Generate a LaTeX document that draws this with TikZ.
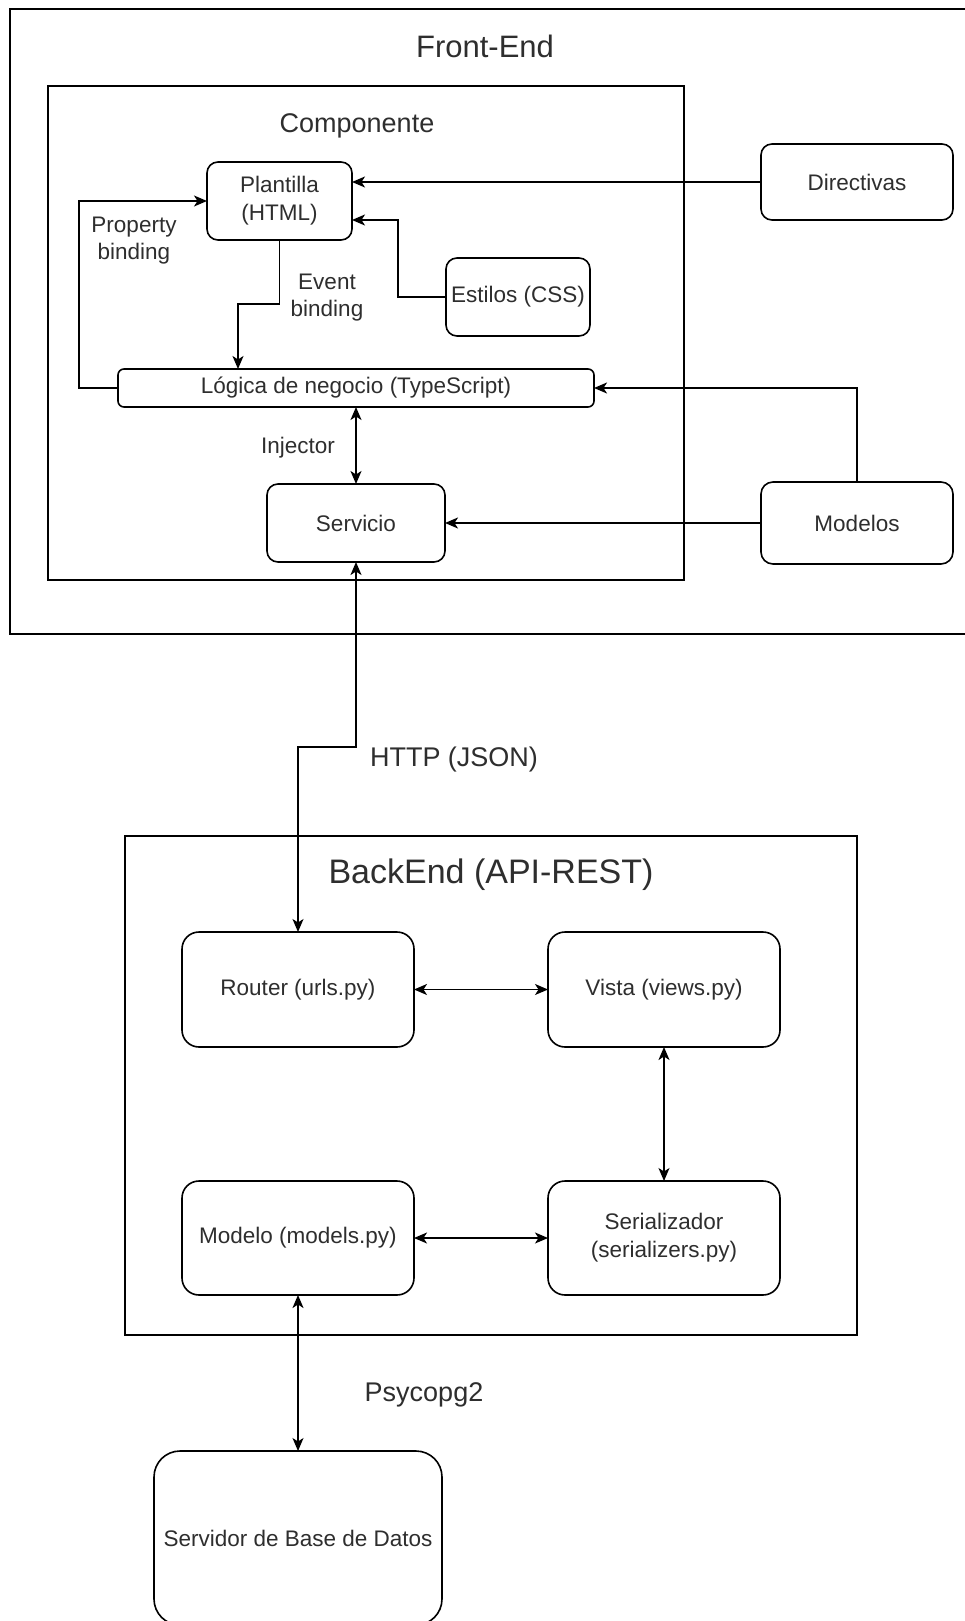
\documentclass[tikz,border=0pt]{standalone}
\usepackage{fontspec}
\setmainfont{Liberation Sans}
\usetikzlibrary{arrows.meta}
\definecolor{txt}{HTML}{2E2E2E}
\begin{document}
\begin{tikzpicture}[x=1pt,y=-1pt,
  every node/.style={text=txt, inner sep=0pt, outer sep=0pt},
  panel/.style={draw=black, line width=1.6pt},
  box/.style={draw=black, line width=1.6pt, fill=white, align=center,
    font=\fontsize{22.5}{28}\selectfont},
  lbl/.style={align=center, font=\fontsize{22.5}{27}\selectfont},
  biglbl/.style={font=\fontsize{27}{32}\selectfont},
  ttl/.style={font=\fontsize{34}{40}\selectfont},
  arr/.style={draw=black, line width=1.6pt, -{Stealth[length=13pt,width=11pt,inset=3.5pt]}},
  darr/.style={draw=black, line width=1.6pt,
    {Stealth[length=13pt,width=11pt,inset=3.5pt]}-{Stealth[length=13pt,width=11pt,inset=3.5pt]}}]

\fill[white] (0,0) rectangle (964,1621);
\useasboundingbox (0,0) rectangle (964,1621);

% ---------- Front-End ----------
\node[panel, minimum width=957pt, minimum height=625pt] (frontend) at (488.5,321.5) {};
\node[font=\fontsize{31}{37}\selectfont] (fetitle) at (485,46) {Front-End};

\node[panel, minimum width=636pt, minimum height=494pt] (componente) at (366,333) {};
\node[font=\fontsize{27}{32}\selectfont] (comptitle) at (357,126) {Componente};

\node[box, rounded corners=11pt, minimum width=145pt, minimum height=78pt] (plantilla) at (279.5,201) {Plantilla\\(HTML)};
\node[box, rounded corners=11pt, minimum width=192pt, minimum height=76pt] (directivas) at (857,182) {Directivas};
\node[box, rounded corners=11pt, minimum width=144pt, minimum height=78pt] (estilos) at (518,297) {Estilos (CSS)};
\node[box, rounded corners=6pt, minimum width=476pt, minimum height=38pt] (logica) at (356,388) {Lógica de negocio (TypeScript)};
\node[box, rounded corners=11pt, minimum width=178pt, minimum height=78pt] (servicio) at (356,523) {Servicio};
\node[box, rounded corners=12pt, minimum width=192pt, minimum height=82pt] (modelos) at (857,523) {Modelos};

% ---------- BackEnd ----------
\node[panel, minimum width=732pt, minimum height=499pt] (backend) at (491,1085.5) {};
\node[ttl] (betitle) at (491,875) {BackEnd (API-REST)};

\node[box, rounded corners=17pt, minimum width=232pt, minimum height=115pt] (router) at (298,989.5) {Router (urls.py)};
\node[box, rounded corners=17pt, minimum width=232pt, minimum height=115pt] (vista) at (664,989.5) {Vista (views.py)};
\node[box, rounded corners=17pt, minimum width=232pt, minimum height=114pt] (modelo) at (298,1238) {Modelo (models.py)};
\node[box, rounded corners=17pt, minimum width=232pt, minimum height=114pt] (serial) at (664,1238) {Serializador\\(serializers.py)};

\node[box, rounded corners=26pt, minimum width=288pt, minimum height=174pt] (servidor) at (298,1538) {Servidor de Base de Datos};

% ---------- connector bends ----------
\coordinate (estA) at (398,297);
\coordinate (estB) at (398,220);
\coordinate (evA) at (279.5,304);
\coordinate (evB) at (238,304);
\coordinate (pbA) at (79,388);
\coordinate (pbB) at (79,201);
\coordinate (htA) at (356,747);
\coordinate (htB) at (298,747);

% ---------- connectors ----------
\draw[arr] (directivas.west) -- (directivas.west -| plantilla.east);
\draw[arr] (estilos.west) -- (estA) -- (estB) -- (estB -| plantilla.east);
\draw[arr] (plantilla.south) -- (evA) -- (evB) -- (evB |- logica.north);
\draw[arr] (logica.west) -- (pbA) -- (pbB) -- (plantilla.west);
\draw[arr] (modelos.north) -- (modelos.north |- logica.east) -- (logica.east);
\draw[arr] (modelos.west) -- (servicio.east);
\draw[darr] (logica.south) -- (servicio.north);
\draw[darr] (servicio.south) -- (htA) -- (htB) -- (router.north);
\draw[darr] (router.east) -- (vista.west);
\draw[darr] (vista.south) -- (serial.north);
\draw[darr] (modelo.east) -- (serial.west);
\draw[darr] (modelo.south) -- (servidor.north);

% ---------- connector labels ----------
\node[lbl] (propl) at (134,240.5) {Property\\binding};
\node[lbl] (evl) at (327,297.5) {Event\\binding};
\node[lbl] (injl) at (298,448) {Injector};
\node[biglbl] (httpl) at (454,760) {HTTP (JSON)};
\node[biglbl] (psyl) at (424,1395) {Psycopg2};
\end{tikzpicture}
\end{document}
